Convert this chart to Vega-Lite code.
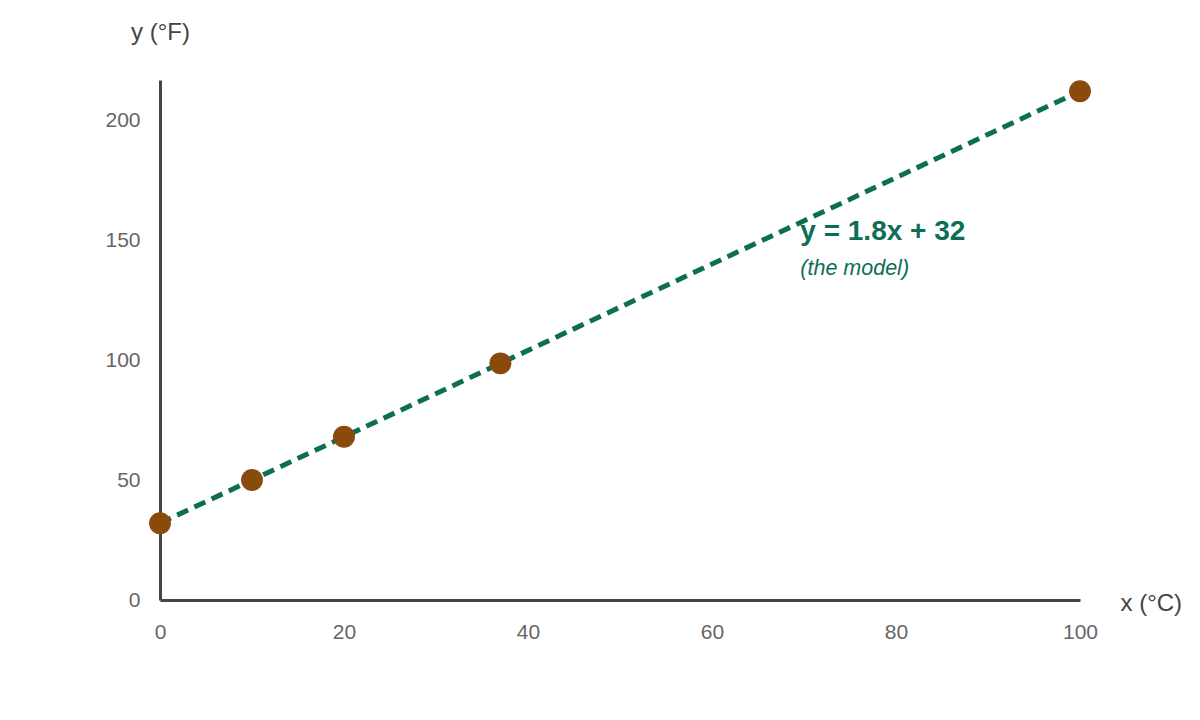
{
  "$schema": "https://vega.github.io/schema/vega-lite/v6.json",
  "autosize": "none",
  "width": 920,
  "height": 520,
  "padding": {"left": 160, "top": 80, "right": 120, "bottom": 120},
  "background": "white",
  "config": {
    "view": {"stroke": null},
    "font": "Liberation Sans"
  },
  "datasets": {
    "points": [
      {"c": 0, "f": 32},
      {"c": 10, "f": 50},
      {"c": 20, "f": 68},
      {"c": 37, "f": 98.6},
      {"c": 100, "f": 212}
    ],
    "model": [
      {"c": 0, "f": 32},
      {"c": 100, "f": 212}
    ],
    "notes": [
      {"c": 69.6, "f": 153.3, "label": "y = 1.8x + 32", "kind": "eq"},
      {"c": 69.6, "f": 138, "label": "(the model)", "kind": "sub"}
    ]
  },
  "encoding": {
    "x": {
      "field": "c",
      "type": "quantitative",
      "scale": {"domain": [0, 100], "nice": false, "zero": false},
      "axis": {
        "title": "x (°C)",
        "values": [0, 20, 40, 60, 80, 100],
        "grid": false,
        "ticks": false,
        "domainColor": "#444444",
        "domainWidth": 3,
        "labelColor": "#666666",
        "labelFontSize": 21,
        "labelPadding": 21,
        "labelFlush": false,
        "labelFont": "Liberation Sans",
        "titleFont": "Liberation Sans",
        "titleFontSize": 24,
        "titleFontWeight": "normal",
        "titleColor": "#444444",
        "titleAlign": "left",
        "titleBaseline": "middle",
        "titleX": 960,
        "titleY": 3,
        "zindex": 0
      }
    },
    "y": {
      "field": "f",
      "type": "quantitative",
      "scale": {"domain": [0, 216.67], "nice": false, "zero": false},
      "axis": {
        "title": "y (°F)",
        "values": [0, 50, 100, 150, 200],
        "grid": false,
        "ticks": false,
        "domainColor": "#444444",
        "domainWidth": 3,
        "labelColor": "#666666",
        "labelFontSize": 21,
        "labelPadding": 20,
        "labelFlush": false,
        "labelFont": "Liberation Sans",
        "titleFont": "Liberation Sans",
        "titleFontSize": 24,
        "titleFontWeight": "normal",
        "titleColor": "#444444",
        "titleAngle": 0,
        "titleAlign": "center",
        "titleBaseline": "middle",
        "titleX": 0,
        "titleY": -48,
        "zindex": 0
      }
    }
  },
  "layer": [
    {
      "data": {"name": "model"},
      "mark": {
        "type": "line",
        "color": "#0e6e55",
        "strokeWidth": 5,
        "strokeDash": [12, 7]
      }
    },
    {
      "data": {"name": "points"},
      "mark": {
        "type": "circle",
        "color": "#8a4a0c",
        "opacity": 1,
        "size": 480
      }
    },
    {
      "data": {"name": "notes"},
      "transform": [{"filter": "datum.kind === 'eq'"}],
      "mark": {
        "type": "text",
        "align": "left",
        "baseline": "middle",
        "fontSize": 28,
        "fontWeight": "bold",
        "color": "#0e6e55",
        "font": "Liberation Sans"
      },
      "encoding": {"text": {"field": "label"}}
    },
    {
      "data": {"name": "notes"},
      "transform": [{"filter": "datum.kind === 'sub'"}],
      "mark": {
        "type": "text",
        "align": "left",
        "baseline": "middle",
        "fontSize": 21.5,
        "fontStyle": "italic",
        "color": "#0e6e55",
        "font": "Liberation Sans"
      },
      "encoding": {"text": {"field": "label"}}
    }
  ]
}
